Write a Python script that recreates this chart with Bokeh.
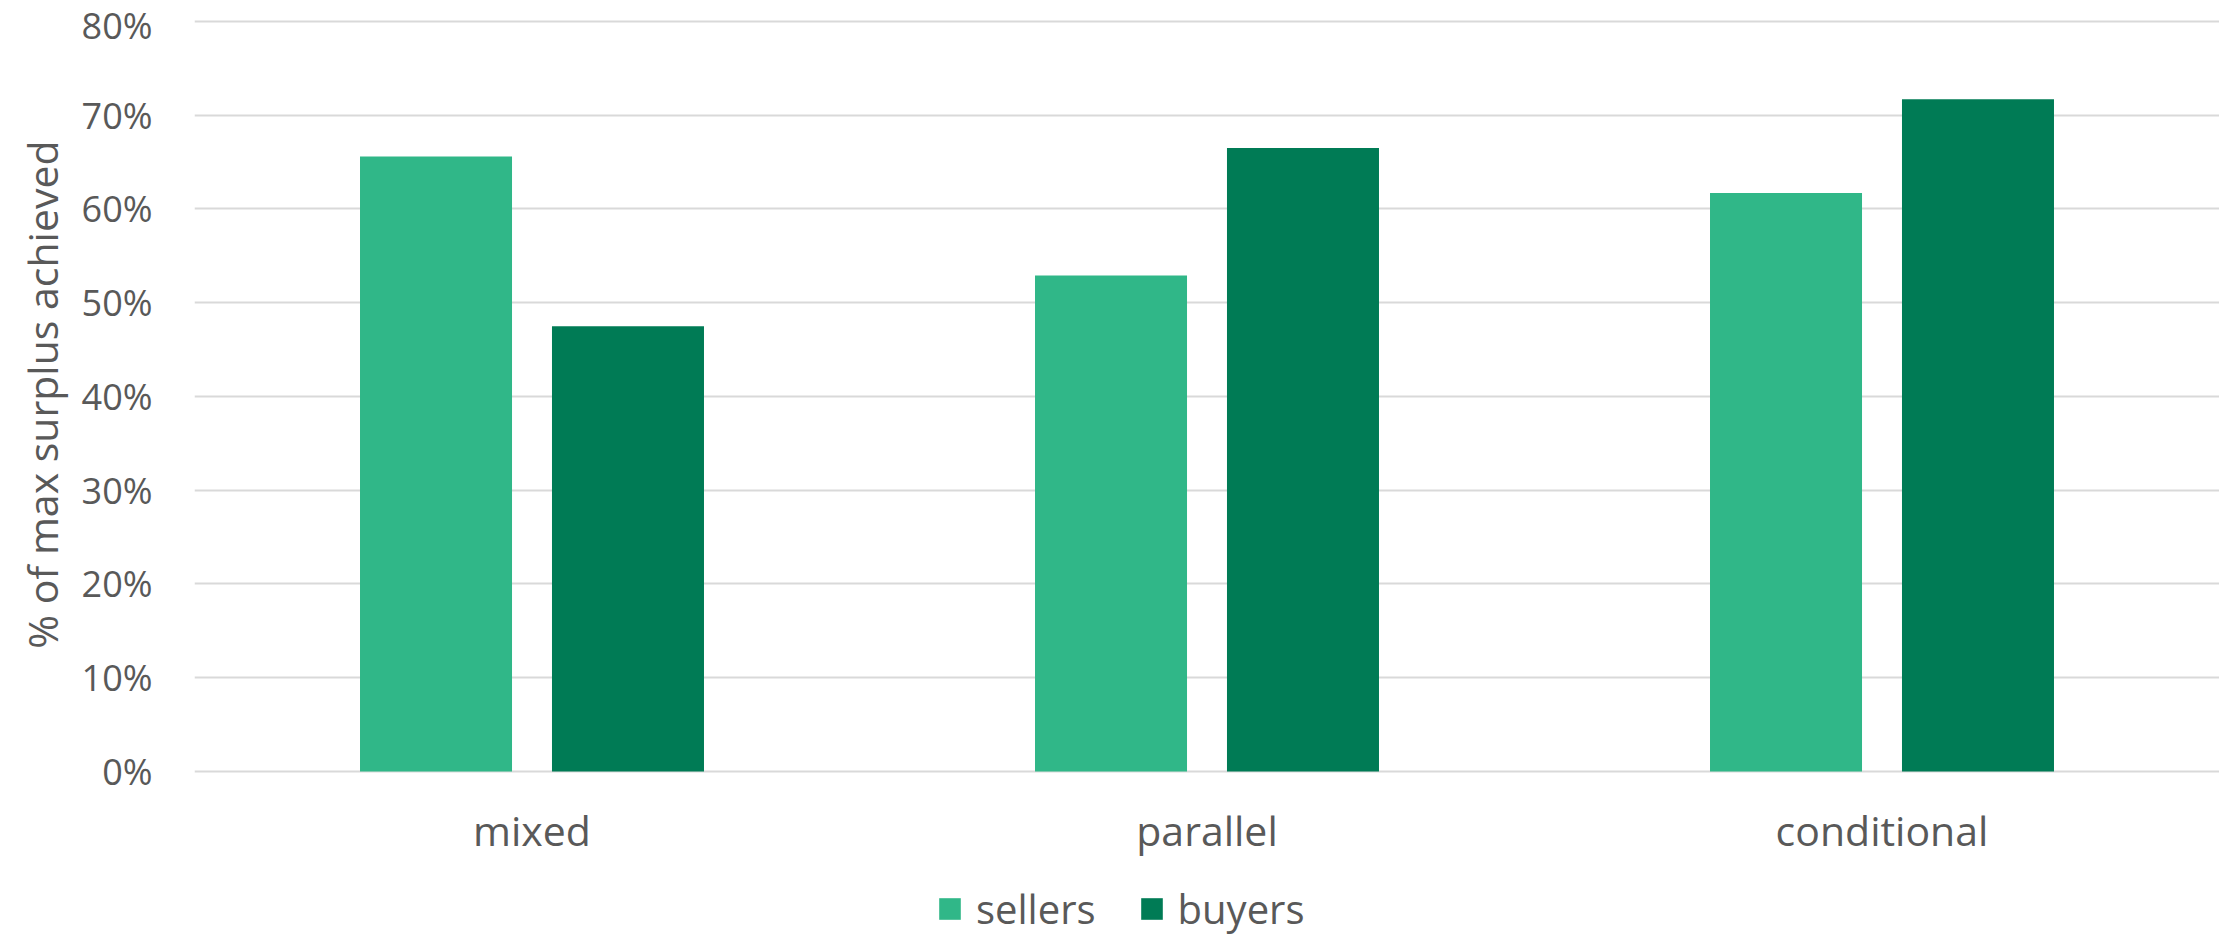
from bokeh.plotting import figure
from bokeh.models import (ColumnDataSource, FactorRange, Range1d, NumeralTickFormatter, FixedTicker,
                          Legend, LegendItem, Title)
from bokeh.core.properties import value
from bokeh.transform import dodge
from bokeh.embed import file_html
from bokeh.resources import INLINE

categories = ["mixed", "parallel", "conditional"]
sellers = [0.656, 0.529, 0.617]
buyers = [0.475, 0.665, 0.717]
y_ticks = [0.0, 0.1, 0.2, 0.3, 0.4, 0.5, 0.6, 0.7, 0.8]
y_title = "% of max surplus achieved"

TEXT = "#595959"
FONT = "Open Sans"

src = ColumnDataSource(dict(cat=categories, sellers=sellers, buyers=buyers,
                            lab_y=[-0.0619] * len(categories)))

p = figure(width=2219, height=936, x_range=FactorRange(*categories, range_padding=0),
           y_range=Range1d(-0.176, 0.80213), output_backend="svg", toolbar_location=None,
           min_border_left=194, min_border_right=0, min_border_top=19, min_border_bottom=0)
p.outline_line_color = None
p.background_fill_color = "white"
p.border_fill_color = "white"

r1 = p.vbar(x=dodge("cat", -0.1422, range=p.x_range), top="sellers", width=0.2252,
            source=src, color="#30B788", line_color=None)
r2 = p.vbar(x=dodge("cat", 0.1422, range=p.x_range), top="buyers", width=0.2252,
            source=src, color="#007B55", line_color=None)

# category labels
p.text(x="cat", y="lab_y", text="cat", source=src, text_font=value(FONT),
       text_font_size="41px", text_color=TEXT, text_align="center", text_baseline="alphabetic")

p.xaxis.visible = False
p.xgrid.grid_line_color = None
p.ygrid.grid_line_color = "#D9D9D9"
p.ygrid.grid_line_width = 2

yax = p.yaxis[0]
yax.ticker = FixedTicker(ticks=y_ticks)
yax.bounds = (0, 0.8)
yax.formatter = NumeralTickFormatter(format="0%")
yax.axis_line_color = None
yax.major_tick_line_color = None
yax.minor_tick_line_color = None
yax.major_tick_out = 0
yax.major_tick_in = 0
yax.major_label_text_color = TEXT
yax.major_label_text_font = FONT
yax.major_label_text_font_size = "36px"
yax.major_label_standoff = 42

title = Title(text=y_title, align="right", offset=121, standoff=17,
              text_font=FONT, text_font_size="41px", text_font_style="normal", text_color=TEXT)
p.add_layout(title, "left")

legend = Legend(items=[LegendItem(label="sellers", renderers=[r1]),
                       LegendItem(label="buyers", renderers=[r2])],
                orientation="horizontal", location=(742, 0),
                glyph_width=27, glyph_height=27, label_standoff=13, spacing=42,
                label_text_font=FONT, label_text_font_size="40px", label_text_color=TEXT,
                border_line_color=None, background_fill_alpha=0, padding=0, margin=0)
p.add_layout(legend, "center")

open("out.html", "w").write(file_html(p, INLINE))
